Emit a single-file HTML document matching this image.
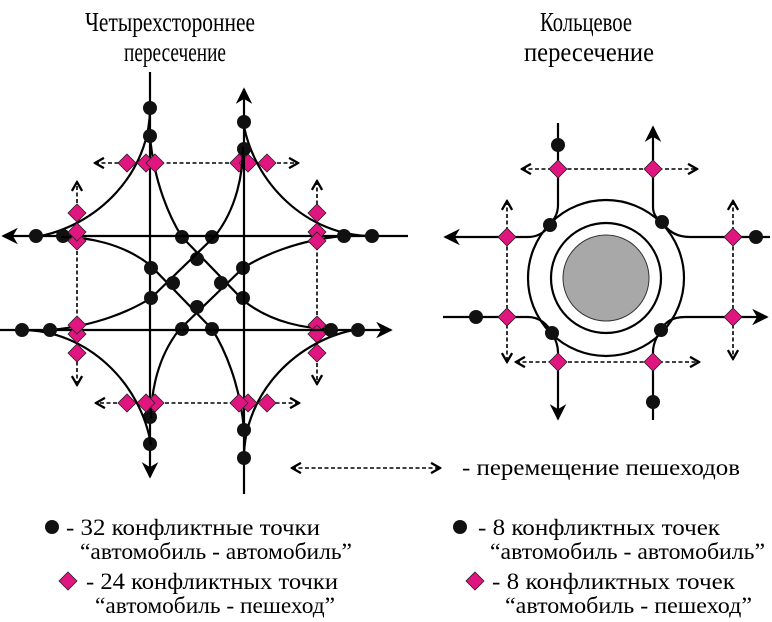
<!DOCTYPE html>
<html><head><meta charset="utf-8"><style>html,body{margin:0;padding:0;background:#fff}svg{display:block}text{font-family:"Liberation Serif","DejaVu Serif",serif}</style></head>
<body>
<svg width="772" height="622" viewBox="0 0 772 622" xmlns="http://www.w3.org/2000/svg">
<defs>
<marker id="ah" viewBox="0 0 10 10" refX="9" refY="5" markerWidth="7.5" markerHeight="7.5" orient="auto-start-reverse" markerUnits="strokeWidth"><path d="M0,0 L10,5 L0,10 L3,5 z" fill="#000"/></marker>
<marker id="oa" viewBox="0 0 10 10" refX="9" refY="5" markerWidth="8" markerHeight="8" orient="auto-start-reverse" markerUnits="strokeWidth"><path d="M2,1 L9,5 L2,9" fill="none" stroke="#000" stroke-width="1.8"/></marker>
<g id="dm"><path d="M0,-9 L9,0 L0,9 L-9,0 z" fill="#e0157f" stroke="#222" stroke-width="0.8"/></g>
<g id="appr">
 <line x1="-47" y1="-211" x2="-47" y2="194" stroke="#000" stroke-width="2.2" marker-end="url(#ah)"/>
 <path d="M-47,-175 C-47,-110 -100,-56 -162,-46" fill="none" stroke="#000" stroke-width="2.2"/>
 <path d="M-47,-147 C-43,-100 -27,-65 -15,-46 L47,18 C75,40 110,46 136,46" fill="none" stroke="#000" stroke-width="2.2"/>
 <line x1="-102" y1="-120" x2="101" y2="-120" stroke="#000" stroke-width="1.6" stroke-dasharray="4,2.5" marker-start="url(#oa)" marker-end="url(#oa)"/>
 <g fill="#111">
  <circle cx="-47" cy="-175" r="7"/><circle cx="-47" cy="-147" r="7"/>
  <circle cx="-47" cy="134" r="7"/><circle cx="-47" cy="161" r="7"/>
  <circle cx="-15" cy="-46" r="7"/><circle cx="15" cy="-46" r="7"/>
  <circle cx="0" cy="-24" r="7"/>
 </g>
 <use href="#dm" x="-70" y="-120"/><use href="#dm" x="-51" y="-120"/><use href="#dm" x="-42" y="-120"/>
 <use href="#dm" x="42" y="-120"/><use href="#dm" x="51" y="-120"/><use href="#dm" x="70" y="-120"/>
</g>
</defs>

<text x="85" y="31" font-size="27" textLength="170" lengthAdjust="spacingAndGlyphs">Четырехстороннее</text>
<text x="124" y="61" font-size="27" textLength="102" lengthAdjust="spacingAndGlyphs">пересечение</text>
<text x="540" y="31" font-size="27" textLength="92" lengthAdjust="spacingAndGlyphs">Кольцевое</text>
<text x="524" y="61" font-size="27" textLength="130" lengthAdjust="spacingAndGlyphs">пересечение</text>

<g transform="translate(197,283)">
 <use href="#appr"/>
 <use href="#appr" transform="rotate(90)"/>
 <use href="#appr" transform="rotate(180)"/>
 <use href="#appr" transform="rotate(270)"/>
</g>

<g fill="none" stroke="#000" stroke-width="2.2">
 <circle cx="606" cy="278" r="78"/>
 <circle cx="606" cy="278" r="55"/>
 <path d="M558,123 L558,205 C558,215 553,220 550,225"/>
 <path d="M653,207 C653,215 658,220 662,222 M653,207 L653,127" marker-end="url(#ah)"/>
 <path d="M550,225 C545,232 538,237 528,237 L445,237" marker-end="url(#ah)"/>
 <path d="M770,237 L690,237 C675,237 667,230 662,222"/>
 <path d="M443,317 L528,317 C540,317 548,325 552,333"/>
 <path d="M661,330 C665,322 672,317 685,317 L767,317" marker-end="url(#ah)"/>
 <path d="M552,333 C556,340 558,346 558,352 L558,419" marker-end="url(#ah)"/>
 <path d="M653,420 L653,352 C653,344 657,336 661,330"/>
</g>
<circle cx="606" cy="278" r="43" fill="#a8a8a8" stroke="#333" stroke-width="1"/>
<g stroke="#000" stroke-width="1.6" stroke-dasharray="4,2.5" fill="none">
 <line x1="522" y1="169" x2="697" y2="169" marker-start="url(#oa)" marker-end="url(#oa)"/>
 <line x1="516" y1="362" x2="699" y2="362" marker-start="url(#oa)" marker-end="url(#oa)"/>
 <line x1="507" y1="201" x2="507" y2="362" marker-start="url(#oa)" marker-end="url(#oa)"/>
 <line x1="733" y1="201" x2="733" y2="359" marker-start="url(#oa)" marker-end="url(#oa)"/>
</g>
<g fill="#111">
 <circle cx="558" cy="145" r="7"/><circle cx="550" cy="225" r="7"/><circle cx="662" cy="222" r="7"/>
 <circle cx="756" cy="237" r="7"/><circle cx="476" cy="317" r="7"/><circle cx="552" cy="333" r="7"/>
 <circle cx="661" cy="330" r="7"/><circle cx="653" cy="402" r="7"/>
</g>
<use href="#dm" x="558" y="169"/><use href="#dm" x="653" y="169"/>
<use href="#dm" x="558" y="362"/><use href="#dm" x="653" y="362"/>
<use href="#dm" x="507" y="237"/><use href="#dm" x="507" y="317"/>
<use href="#dm" x="733" y="237"/><use href="#dm" x="733" y="317"/>

<line x1="292" y1="468" x2="440" y2="468" stroke="#000" stroke-width="1.6" stroke-dasharray="4,2.5" marker-start="url(#oa)" marker-end="url(#oa)"/>
<text x="462" y="475" font-size="23" textLength="278" lengthAdjust="spacingAndGlyphs">- перемещение пешеходов</text>

<circle cx="52" cy="527" r="7" fill="#111"/>
<text x="66" y="535" font-size="23" textLength="254" lengthAdjust="spacingAndGlyphs">- 32 конфликтные точки</text>
<text x="80" y="559" font-size="23" textLength="272" lengthAdjust="spacingAndGlyphs">“автомобиль - автомобиль”</text>
<use href="#dm" x="68" y="581"/>
<text x="86" y="589" font-size="23" textLength="252" lengthAdjust="spacingAndGlyphs">- 24 конфликтных точки</text>
<text x="95" y="613" font-size="23" textLength="240" lengthAdjust="spacingAndGlyphs">“автомобиль - пешеход”</text>

<circle cx="460" cy="527" r="7" fill="#111"/>
<text x="478" y="535" font-size="23" textLength="242" lengthAdjust="spacingAndGlyphs">- 8 конфликтных точек</text>
<text x="490" y="559" font-size="23" textLength="275" lengthAdjust="spacingAndGlyphs">“автомобиль - автомобиль”</text>
<use href="#dm" x="475" y="581"/>
<text x="492" y="589" font-size="23" textLength="243" lengthAdjust="spacingAndGlyphs">- 8 конфликтных точек</text>
<text x="505" y="613" font-size="23" textLength="247" lengthAdjust="spacingAndGlyphs">“автомобиль - пешеход”</text>
</svg>
</body></html>
